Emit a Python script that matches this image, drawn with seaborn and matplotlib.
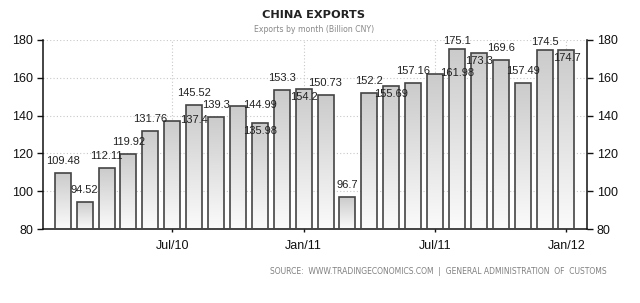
import numpy as np
import pandas as pd
import matplotlib
matplotlib.use("Agg")
import matplotlib.pyplot as plt
import seaborn as sns

# ---- data ----
months = ["2010-02", "2010-03", "2010-04", "2010-05", "2010-06", "2010-07",
          "2010-08", "2010-09", "2010-10", "2010-11", "2010-12", "2011-01",
          "2011-02", "2011-03", "2011-04", "2011-05", "2011-06", "2011-07",
          "2011-08", "2011-09", "2011-10", "2011-11", "2011-12", "2012-01"]
exports = [109.48, 94.52, 112.11, 119.92, 131.76, 137.4, 145.52, 139.3,
           144.99, 135.98, 153.3, 154.2, 150.73, 96.7, 152.2, 155.69,
           157.16, 161.98, 175.1, 173.3, 169.6, 157.49, 174.5, 174.7]
label_text = ["109.48", "94.52", "112.11", "119.92", "131.76", "137.4", "145.52", "139.3",
              "144.99", "135.98", "153.3", "154.2", "150.73", "96.7", "152.2", "155.69",
              "157.16", "161.98", "175.1", "173.3", "169.6", "157.49", "174.5", "174.7"]
# label placement style: a = above, r = right of bar, b = inside below top, c = above (clipped)
label_place = ["a", "a", "a", "a", "a", "r", "a", "a", "r", "b", "a", "b",
               "a", "a", "a", "b", "a", "r", "c", "b", "a", "a", "c", "b"]
yticks = [80, 100, 120, 140, 160, 180]
month_abbr = {"01": "Jan", "07": "Jul"}

df = pd.DataFrame({"month": months, "exports": exports})

sns.set_theme(style="white")
plt.rcParams["font.family"] = ["Liberation Sans", "DejaVu Sans"]

fig = plt.figure(figsize=(6.4, 3.03), dpi=100)
ax = fig.add_axes([43 / 640, 1 - 229 / 303, 544 / 640, 189 / 303])

sns.barplot(data=df, x="month", y="exports", order=months, ax=ax,
            width=0.73, color="white", edgecolor="#444444", linewidth=1.2,
            errorbar=None, zorder=3)

ax.set_ylim(80, 180)
ax.set_xlim(-0.9, 23.94)

# gradient fill inside each bar
grad = np.linspace(0, 1, 256).reshape(-1, 1)
cmap = matplotlib.colors.LinearSegmentedColormap.from_list("g", ["#fbfbfb", "#cbcbcb"])
for p in ax.patches:
    x0 = p.get_x()
    w = p.get_width()
    top = p.get_y() + p.get_height()
    p.set_facecolor("none")
    im = ax.imshow(grad, extent=[x0, x0 + w, 80, top], origin="lower",
                   cmap=cmap, aspect="auto", zorder=2.5, interpolation="bilinear")
    im.set_clip_path(p)
ax.set_xlim(-0.9, 23.94)
ax.set_ylim(80, 180)

# ticks
tick_pos = [i for i, m in enumerate(months) if m[5:] in month_abbr]
tick_lab = [f"{month_abbr[months[i][5:]]}/{months[i][2:4]}" for i in tick_pos]
ax.set_xticks(tick_pos)
ax.set_xticklabels(tick_lab)
ax.set_yticks(yticks)
ax.set_xlabel("")
ax.set_ylabel("")

ax.tick_params(axis="y", left=True, right=True, labelleft=True, labelright=True,
               length=4.5, width=1, color="#111111", pad=2.5, labelsize=9,
               labelcolor="#111111")
ax.tick_params(axis="x", bottom=True, length=2.5, width=1, color="#111111",
               pad=5.5, labelsize=9, labelcolor="#111111")

ax.grid(True, axis="both", linestyle=(0, (1, 2)), color="#c8c8c8", linewidth=0.8)
ax.set_axisbelow(True)

for s in ["left", "right", "bottom"]:
    ax.spines[s].set_visible(True)
    ax.spines[s].set_color("#111111")
    ax.spines[s].set_linewidth(1.1)
ax.spines["top"].set_visible(False)

# value labels
offsets = {"a": (0, 12), "r": (22, 1), "b": (0, -8), "c": (0, 8)}
for i, (v, t, pl) in enumerate(zip(exports, label_text, label_place)):
    dx, dy = offsets[pl]
    ax.annotate(t, (i, v), xytext=(dx, dy), textcoords="offset pixels",
                ha="center", va="center", fontsize=8, color="#222222",
                zorder=5, annotation_clip=False)

# titles
fig.text(314 / 640, 1 - 15.5 / 303, "CHINA EXPORTS", ha="center", va="center",
         fontsize=8.2, fontweight="bold", color="#222222", family="DejaVu Sans")
fig.text(314 / 640, 1 - 29 / 303, "Exports by month (Billion CNY)", ha="center",
         va="center", fontsize=5.6, color="#888888", family="DejaVu Sans")
fig.text(607 / 640, 1 - 271 / 303,
         "SOURCE:  WWW.TRADINGECONOMICS.COM  |  GENERAL ADMINISTRATION  OF  CUSTOMS",
         ha="right", va="center", fontsize=5.5, color="#808080", family="DejaVu Sans")

fig.savefig("out.png", dpi=100, facecolor="white")
